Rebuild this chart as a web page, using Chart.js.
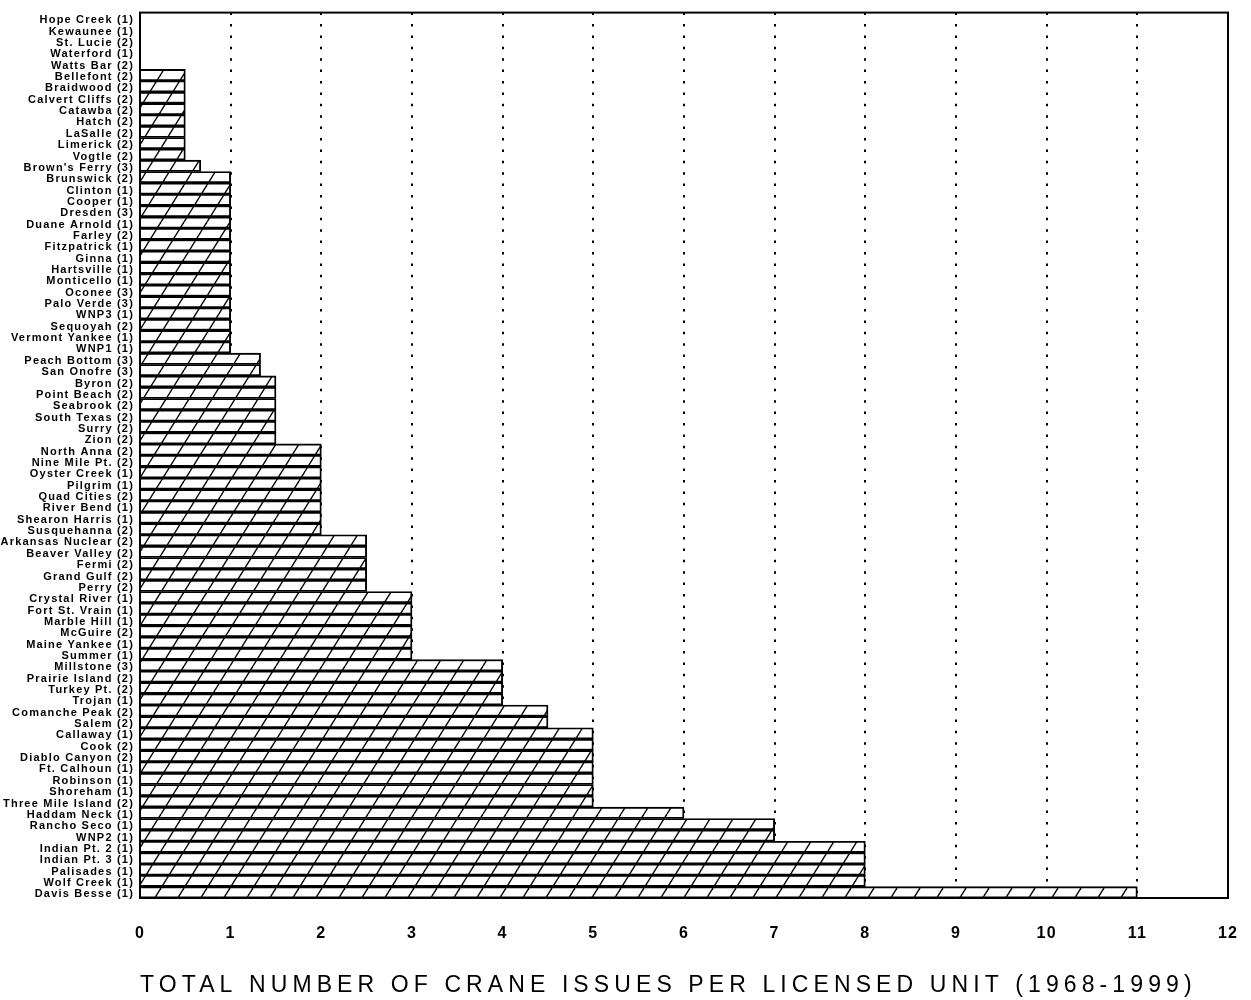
<!DOCTYPE html>
<html>
<head>
<meta charset="utf-8">
<script src="https://cdn.jsdelivr.net/npm/chart.js@4/dist/chart.umd.min.js"></script>
<style>
  html, body { margin: 0; padding: 0; background: #fff; }
  #wrap { width: 1251px; height: 1000px; position: relative; }
</style>
</head>
<body>
<div id="wrap"><canvas id="crane"></canvas></div>
<script>
// plants, with number of licensed units in brackets
const plants = [
  'Hope Creek (1)', 'Kewaunee (1)', 'St. Lucie (2)', 'Waterford (1)', 'Watts Bar (2)',
  'Bellefont (2)', 'Braidwood (2)', 'Calvert Cliffs (2)', 'Catawba (2)', 'Hatch (2)',
  'LaSalle (2)', 'Limerick (2)', 'Vogtle (2)', "Brown's Ferry (3)", 'Brunswick (2)',
  'Clinton (1)', 'Cooper (1)', 'Dresden (3)', 'Duane Arnold (1)', 'Farley (2)',
  'Fitzpatrick (1)', 'Ginna (1)', 'Hartsville (1)', 'Monticello (1)', 'Oconee (3)',
  'Palo Verde (3)', 'WNP3 (1)', 'Sequoyah (2)', 'Vermont Yankee (1)', 'WNP1 (1)',
  'Peach Bottom (3)', 'San Onofre (3)', 'Byron (2)', 'Point Beach (2)', 'Seabrook (2)',
  'South Texas (2)', 'Surry (2)', 'Zion (2)', 'North Anna (2)', 'Nine Mile Pt. (2)',
  'Oyster Creek (1)', 'Pilgrim (1)', 'Quad Cities (2)', 'River Bend (1)', 'Shearon Harris (1)',
  'Susquehanna (2)', 'Arkansas Nuclear (2)', 'Beaver Valley (2)', 'Fermi (2)', 'Grand Gulf (2)',
  'Perry (2)', 'Crystal River (1)', 'Fort St. Vrain (1)', 'Marble Hill (1)', 'McGuire (2)',
  'Maine Yankee (1)', 'Summer (1)', 'Millstone (3)', 'Prairie Island (2)', 'Turkey Pt. (2)',
  'Trojan (1)', 'Comanche Peak (2)', 'Salem (2)', 'Callaway (1)', 'Cook (2)',
  'Diablo Canyon (2)', 'Ft. Calhoun (1)', 'Robinson (1)', 'Shoreham (1)', 'Three Mile Island (2)',
  'Haddam Neck (1)', 'Rancho Seco (1)', 'WNP2 (1)', 'Indian Pt. 2 (1)', 'Indian Pt. 3 (1)',
  'Palisades (1)', 'Wolf Creek (1)', 'Davis Besse (1)'
];

// crane issues per licensed unit
const issuesPerUnit = [
  0, 0, 0, 0, 0,
  0.5, 0.5, 0.5, 0.5, 0.5,
  0.5, 0.5, 0.5, 0.67, 1,
  1, 1, 1, 1, 1,
  1, 1, 1, 1, 1,
  1, 1, 1, 1, 1,
  1.33, 1.33, 1.5, 1.5, 1.5,
  1.5, 1.5, 1.5, 2, 2,
  2, 2, 2, 2, 2,
  2, 2.5, 2.5, 2.5, 2.5,
  2.5, 3, 3, 3, 3,
  3, 3, 4, 4, 4,
  4, 4.5, 4.5, 5, 5,
  5, 5, 5, 5, 5,
  6, 7, 7, 8, 8,
  8, 8, 11
];

const xTicks = [0, 1, 2, 3, 4, 5, 6, 7, 8, 9, 10, 11, 12];
const xTitle = 'TOTAL NUMBER OF CRANE ISSUES PER LICENSED UNIT (1968-1999)';

// white fill with "/" hatching
function hatch() {
  const w = 23, h = 37;
  const c = document.createElement('canvas');
  c.width = w; c.height = h;
  const g = c.getContext('2d');
  g.fillStyle = '#fff';
  g.fillRect(0, 0, w, h);
  g.strokeStyle = '#000';
  g.lineWidth = 1.4;
  for (const dx of [-w, 0, w]) {
    g.beginPath();
    g.moveTo(dx, h);
    g.lineTo(dx + w, 0);
    g.stroke();
  }
  return g.createPattern(c, 'repeat');
}

// the old typeset look is widely spaced: wide for the axis title,
// a bit less for the tick labels (those are drawn after the bars, z: 1)
const spacing = {
  id: 'spacing',
  beforeDraw(chart) { chart.ctx.letterSpacing = '5.1px'; },
  afterDatasetsDraw(chart) { chart.ctx.letterSpacing = '1.2px'; },
  afterDraw(chart) { chart.ctx.letterSpacing = '0px'; }
};

const frame = {
  id: 'frame',
  afterDatasetsDraw(chart) {
    const { ctx, chartArea: a } = chart;
    ctx.save();
    ctx.strokeStyle = '#000';
    ctx.lineWidth = 2;
    ctx.strokeRect(a.left, a.top, a.right - a.left, a.bottom - a.top);
    ctx.restore();
  }
};

new Chart(document.getElementById('crane'), {
  type: 'bar',
  data: {
    labels: plants,
    datasets: [{
      data: issuesPerUnit,
      backgroundColor: hatch(),
      borderColor: '#000',
      borderWidth: 1.9,
      borderSkipped: 'start',
      barPercentage: 1,
      categoryPercentage: 1
    }]
  },
  options: {
    indexAxis: 'y',
    responsive: true,
    maintainAspectRatio: false,
    animation: false,
    layout: { padding: { top: 2, right: 23, bottom: 0, left: 0 } },
    plugins: { legend: { display: false }, tooltip: { enabled: false } },
    scales: {
      x: {
        min: 0,
        max: 12,
        afterBuildTicks(scale) { scale.ticks = xTicks.map(v => ({ value: v })); },
        afterFit(scale) {
          scale.height = 102;
          scale.paddingLeft = 0;
          scale.paddingRight = 0;
        },
        border: { display: false, dash: [2.5, 8.9] },
        grid: {
          drawTicks: false,
          lineWidth: 2,
          color: c => (c.tick && c.tick.value > 0 && c.tick.value < 12) ? '#000' : 'rgba(0,0,0,0)'
        },
        ticks: {
          z: 1,
          color: '#000',
          padding: 26,
          font: { family: 'Liberation Sans', size: 16, weight: 'bold' }
        },
        title: {
          display: true,
          text: xTitle,
          align: 'start',
          color: '#000',
          padding: { top: 0, bottom: 1 },
          font: { family: 'Liberation Sans', size: 23, weight: 'normal' }
        }
      },
      y: {
        afterFit(scale) { scale.width = 140; },
        border: { display: false },
        grid: { display: false, drawTicks: false },
        ticks: {
          z: 1,
          autoSkip: false,
          color: '#000',
          padding: 6,
          labelOffset: 2,
          font: { family: 'Liberation Sans', size: 11, weight: 'bold' }
        }
      }
    }
  },
  plugins: [spacing, frame]
});
</script>
</body>
</html>
